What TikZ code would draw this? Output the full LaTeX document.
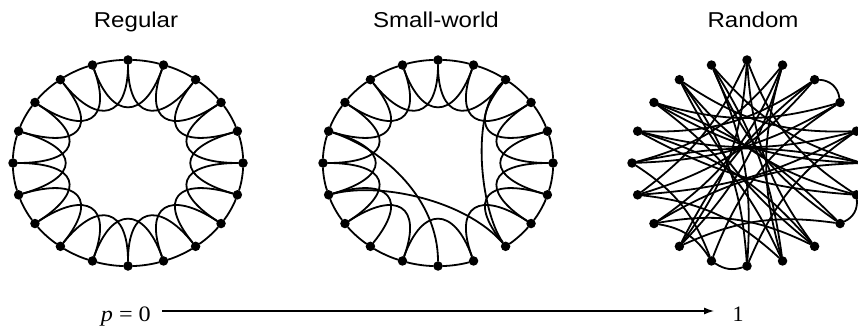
\documentclass[tikz,border=0pt]{standalone}
\usepackage{fontspec}
\usepackage{graphicx}
\setmainfont{Liberation Serif}
\newfontfamily\labfont{Liberation Sans}
\usetikzlibrary{arrows.meta}
\tikzset{
  dot/.style={circle,fill=black,inner sep=0pt,minimum size=9.5pt},
  edge/.style={line width=1.8pt,line cap=round},
  title/.style={font=\labfont\fontsize{21.5}{24}\selectfont,anchor=base,inner sep=0pt},
  axislab/.style={font=\fontsize{22}{24}\selectfont,inner sep=0pt}
}
\newcommand\ringarc[3]{%
  \pgfmathtruncatemacro\rN{mod(#3+1,20)}%
  \pgfmathsetmacro\rA{90-18*#3}%
  \pgfmathsetmacro\rB{\rA-18}%
  \draw[edge] (#1#3) .. controls ({#2+115*cos(\rA)+12.06*sin(\rA)},{163-103*sin(\rA)+10.8*cos(\rA)}) and ({#2+115*cos(\rB)-12.06*sin(\rB)},{163-103*sin(\rB)-10.8*cos(\rB)}) .. (#1\rN);}
\newcommand\ringloop[3]{%
  \pgfmathtruncatemacro\rM{mod(#3+2,20)}%
  \pgfmathsetmacro\rA{90-18*#3}%
  \pgfmathsetmacro\rC{\rA-36}%
  \draw[edge] (#1#3) .. controls ({#2+50.6*cos(\rA)},{163-45.3*sin(\rA)}) and ({#2+50.6*cos(\rC)},{163-45.3*sin(\rC)}) .. (#1\rM);}
\begin{document}
\begin{tikzpicture}[x=1pt,y=-1pt]
\useasboundingbox (0,0) rectangle (858,326);
% nodes
\foreach \p/\cx in {r/128,s/438,q/747}{
  \foreach \k in {0,...,19}{
    \node[dot] (\p\k) at ({\cx+115*cos(90-18*\k)},{163-103*sin(90-18*\k)}) {};
  }
}
% regular
\foreach \k in {0,...,19}{\ringarc{r}{128}{\k}\ringloop{r}{128}{\k}}
% small-world
\foreach \k in {0,1,2,3,4,5,6,7,9,10,11,12,13,14,15,16,17,18,19}{\ringarc{s}{438}{\k}}
\foreach \k in {0,1,2,3,4,5,6,7,9,11,12,13,14,15,16,17,18,19}{\ringloop{s}{438}{\k}}
\draw[edge] (s16) .. controls (385,150) and (438,200) .. (s10);
\draw[edge] (s14) .. controls (380,182) and (465,200) .. (s8);
\draw[edge] (s2) .. controls (470,110) and (480,210) .. (s8);
% random
\foreach \a/\b/\bd in {2/3/40,10/11/25,6/7/35,0/12/16,0/8/-16,0/14/14,0/6/-18,1/13/16,1/12/14,1/15/18,1/9/-16,2/14/16,2/12/-12,2/16/18,3/15/14,3/17/16,3/11/-18,4/16/14,4/14/12,4/18/18,4/10/-16,5/17/14,5/15/-12,5/19/16,5/13/-14,6/18/18,6/16/12,7/17/-12,7/19/16,8/18/12,8/16/-16,8/13/-18,9/19/-12,9/17/-14,9/14/-18,10/18/-16,10/19/-14,11/15/-18,7/12/-16,11/13/-24}{
  \draw[edge] (q\a) to[bend left=\bd] (q\b);
}
% titles
\node[title] (t1) at (136,28) {\scalebox{1.12}[1]{Regular}};
\node[title] (t2) at (436,28) {\scalebox{1.12}[1]{Small-world}};
\node[title] (t3) at (753,28) {\scalebox{1.12}[1]{Random}};
% axis
\node[axislab,anchor=base east] (p0) at (151,321) {\scalebox{1.1}[1]{\textit{p} = 0}};
\node[axislab,anchor=base] (one) at (738,321) {1};
\coordinate (aS) at (162,311);
\coordinate (aE) at (714,311);
\draw[line width=1.2pt,-{Latex[length=10pt,width=7pt]}] (aS) -- (aE);
\end{tikzpicture}
\end{document}
